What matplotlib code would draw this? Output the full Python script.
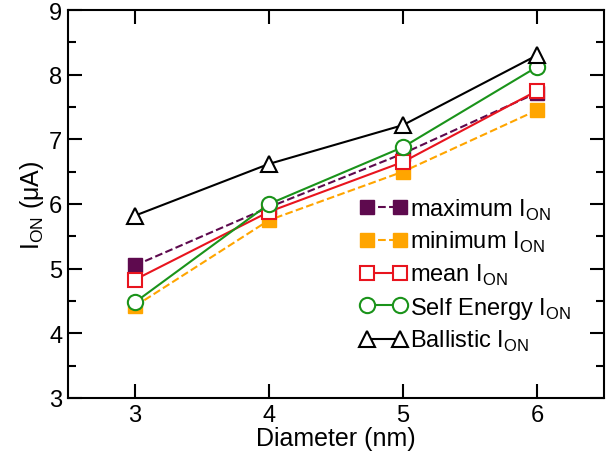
import matplotlib
matplotlib.use("Agg")
from matplotlib import pyplot as plt
from matplotlib.ticker import MultipleLocator

plt.rcParams['font.family'] = ['Liberation Sans', 'DejaVu Sans']

diameter = [3, 4, 5, 6]
i_max = [5.05, 5.95, 6.78, 7.72]
i_min = [4.42, 5.75, 6.50, 7.45]
i_mean = [4.83, 5.88, 6.65, 7.75]
i_self = [4.48, 6.00, 6.88, 8.12]
i_ball = [5.82, 6.62, 7.22, 8.30]

fig = plt.figure(figsize=(6.15, 4.56), dpi=100)
ax = fig.add_axes([68/615, 57/456, 536/615, 388/456])

ax.plot(diameter, i_max, '--s', color='#5e0a4e', ms=10, lw=1.5, label=r'maximum I$_\mathregular{ON}$')
ax.plot(diameter, i_min, '--s', color='#ffa500', ms=10, lw=1.5, label=r'minimum I$_\mathregular{ON}$')
ax.plot(diameter, i_mean, '-s', color='#e8141e', mfc='white', mew=1.5, ms=10, lw=1.5, label=r'mean I$_\mathregular{ON}$')
ax.plot(diameter, i_self, '-o', color='#1a931a', mfc='white', mew=1.5, ms=11, lw=1.5, label=r'Self Energy I$_\mathregular{ON}$')
ax.plot(diameter, i_ball, '-^', color='black', mfc='white', mew=1.5, ms=11, lw=1.5, label=r'Ballistic I$_\mathregular{ON}$')

ax.set_xlim(2.5, 6.5)
ax.set_ylim(3, 9)
ax.set_xticks(diameter)
ax.yaxis.set_major_locator(MultipleLocator(1))
ax.yaxis.set_minor_locator(MultipleLocator(0.5))
ax.tick_params(which='both', direction='in', top=True, right=True, labelsize=17, width=1.5)
ax.tick_params(which='major', length=10, pad=4)
ax.tick_params(which='minor', length=6)
for s in ax.spines.values():
    s.set_linewidth(1.5)

ax.set_xlabel('Diameter (nm)', fontsize=18, labelpad=0)
ax.set_ylabel(r'I$_\mathregular{ON}$ ($\mathregular{\mu}$A)', fontsize=18, labelpad=2)

ax.legend(loc='upper left', bbox_to_anchor=(0.522, 0.55), frameon=False, fontsize=17,
          borderpad=0, handlelength=2.0, handletextpad=0.15, labelspacing=0.32, numpoints=2)

fig.savefig('out.png', dpi=100)
